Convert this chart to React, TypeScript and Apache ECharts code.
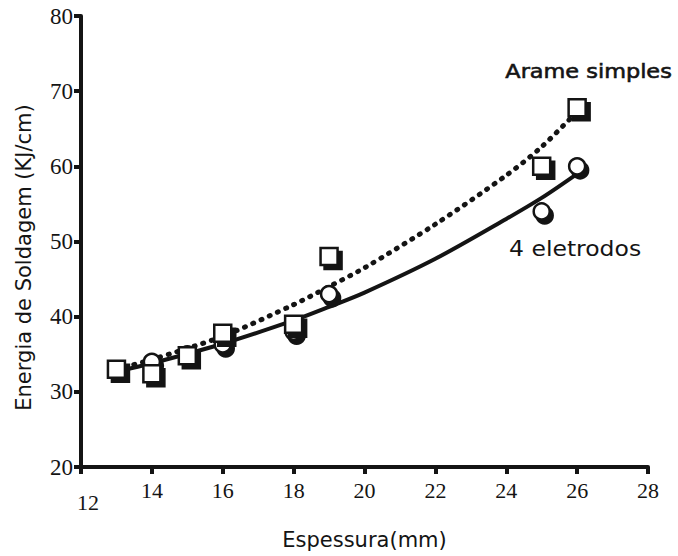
import React, { useEffect, useRef } from "react";
import * as echarts from "echarts";

// Measured points
const thicknessX = [13, 14, 15, 16, 18, 19, 25, 26];
const arameSimples = [33, 32.4, 34.8, 37.8, 39, 48, 60, 67.8];
const quatroEletrodos = [33, 34, 35, 36.3, 38, 43, 54, 60];

// Trend curves
const trendArameX = [13, 14, 16, 18, 19, 20, 22, 24, 25, 26];
const trendArameY = [33, 34.3, 37.4, 41.6, 44, 46.5, 52.3, 58.8, 62.6, 67.3];
const trendEletX = [13, 14, 16, 18, 19, 20, 22, 24, 25, 26];
const trendEletY = [32.7, 33.8, 36.4, 39.5, 41.3, 43.2, 47.7, 53.0, 55.8, 59];

const xTitle = "Espessura(mm)";
const yTitle = "Energia de Soldagem (KJ/cm)";
const labelArame = "Arame simples";
const labelElet = "4 eletrodos";

const pair = (xs: number[], ys: number[]) => xs.map((x, i) => [x, ys[i]]);

export default function App() {
  const ref = useRef<HTMLDivElement>(null);
  useEffect(() => {
    if (!ref.current) return;
    const chart = echarts.init(ref.current, null, { renderer: "svg" });
    const ink = "#141414";
    const makeAxisLine = () => ({ show: true, lineStyle: { color: ink, width: 4 } });
    const makeTick = () => ({
      show: true,
      inside: false,
      length: 7,
      lineStyle: { color: ink, width: 4 },
    });
    const markerShadow = {
      color: ink,
      borderColor: ink,
      borderWidth: 2.5,
      opacity: 1,
    };
    const markerFace = {
      color: "#ffffff",
      borderColor: ink,
      borderWidth: 2.5,
      opacity: 1,
    };
    chart.setOption({
      animation: false,
      backgroundColor: "#ffffff",
      grid: { left: 81, right: 30, top: 16, bottom: 89 },
      xAxis: {
        type: "value",
        min: 12,
        max: 28,
        interval: 2,
        axisLine: makeAxisLine(),
        axisTick: makeTick(),
        splitLine: { show: false },
        axisLabel: {
          margin: 12,
          color: ink,
          fontFamily: "Liberation Serif",
          fontSize: 22,
          formatter: (v: number) => (v === 12 ? "{low|12}" : String(v)),
          rich: {
            low: {
              fontFamily: "Liberation Serif",
              fontSize: 22,
              color: ink,
              padding: [12, 0, 0, 14],
            },
          },
        },
        name: xTitle,
        nameLocation: "middle",
        nameGap: 62,
        nameTextStyle: {
          fontFamily: "DejaVu Sans",
          fontSize: 21,
          color: ink,
        },
      },
      yAxis: {
        type: "value",
        min: 20,
        max: 80,
        interval: 10,
        axisLine: makeAxisLine(),
        axisTick: makeTick(),
        splitLine: { show: false },
        axisLabel: {
          margin: 8,
          color: ink,
          fontFamily: "Liberation Serif",
          fontSize: 23,
        },
        name: yTitle,
        nameLocation: "middle",
        nameGap: 47,
        nameTextStyle: {
          fontFamily: "DejaVu Sans",
          fontSize: 21,
          color: ink,
          padding: [0, 32, 0, 0],
        },
      },
      graphic: [
        {
          type: "text",
          left: 505,
          top: 61,
          scaleX: 1.12,
          style: {
            text: labelArame,
            fontFamily: "DejaVu Sans",
            fontSize: 20,
            fill: ink,
            stroke: ink,
            lineWidth: 0.6,
          },
        },
        {
          type: "text",
          left: 509,
          top: 238,
          scaleX: 1.12,
          style: {
            text: labelElet,
            fontFamily: "DejaVu Sans",
            fontSize: 21,
            fill: ink,
          },
        },
      ],
      series: [
        {
          type: "line",
          data: pair(trendArameX, trendArameY),
          smooth: 0.3,
          showSymbol: false,
          symbol: "none",
          lineStyle: { color: ink, width: 5, type: [1, 8], cap: "round" },
          z: 1,
        },
        {
          type: "line",
          data: pair(trendEletX, trendEletY),
          smooth: 0.3,
          showSymbol: false,
          symbol: "none",
          lineStyle: { color: ink, width: 4 },
          z: 1,
        },
        {
          type: "scatter",
          data: pair(thicknessX, quatroEletrodos),
          symbol: "circle",
          symbolSize: 16,
          symbolOffset: [3, 4],
          itemStyle: markerShadow,
          z: 2,
        },
        {
          type: "scatter",
          data: pair(thicknessX, quatroEletrodos),
          symbol: "circle",
          symbolSize: 16,
          itemStyle: markerFace,
          z: 3,
        },
        {
          type: "scatter",
          data: pair(thicknessX, arameSimples),
          symbol: "rect",
          symbolSize: 17,
          symbolOffset: [4, 4],
          itemStyle: markerShadow,
          z: 4,
        },
        {
          type: "scatter",
          data: pair(thicknessX, arameSimples),
          symbol: "rect",
          symbolSize: 17,
          itemStyle: markerFace,
          z: 5,
        },
      ],
    });
    return () => chart.dispose();
  }, []);
  return (
    <div
      ref={ref}
      style={{ position: "fixed", left: 0, top: 0, width: 678, height: 556 }}
    />
  );
}
